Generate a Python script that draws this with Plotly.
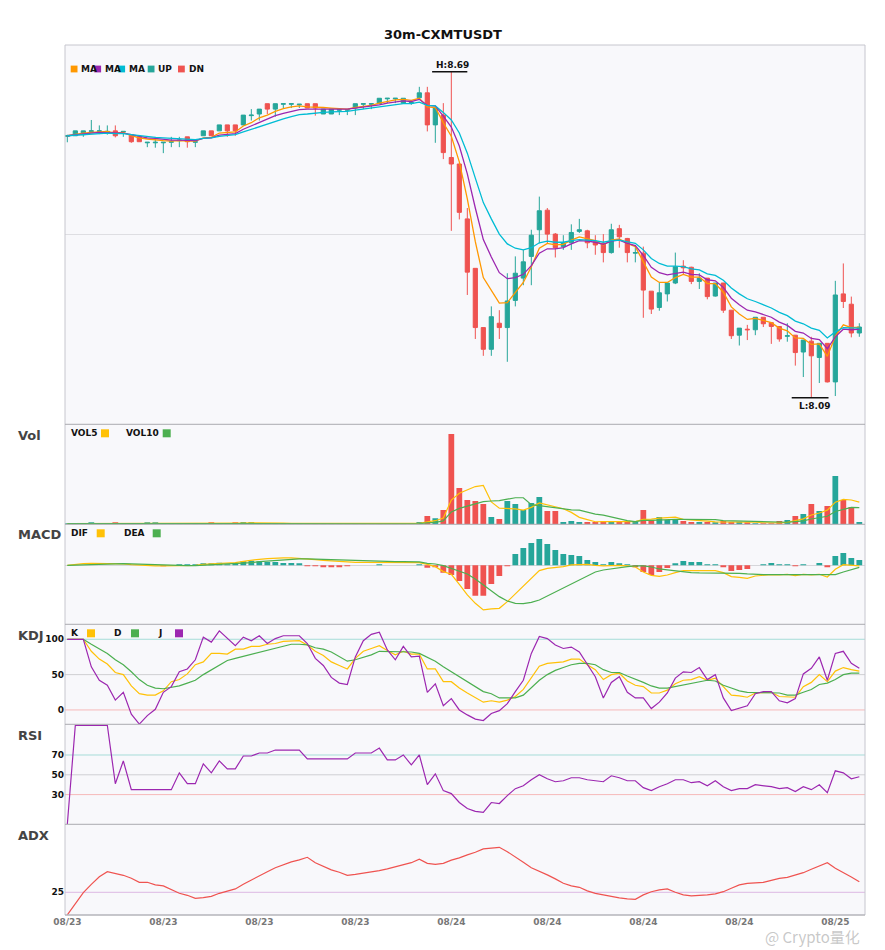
import plotly.graph_objects as go

# ---- values (100 bars) ----
opens = [8.571, 8.572, 8.574, 8.580, 8.580, 8.579, 8.581, 8.579, 8.574, 8.570,
         8.559, 8.559, 8.559, 8.560, 8.563, 8.570, 8.560, 8.572, 8.581, 8.581,
         8.592, 8.592, 8.592, 8.609, 8.612, 8.631, 8.621, 8.630, 8.630, 8.629,
         8.631, 8.631, 8.612, 8.612, 8.619, 8.619, 8.623, 8.630, 8.630, 8.631,
         8.640, 8.640, 8.632, 8.632, 8.642, 8.651, 8.592, 8.610, 8.532, 8.520,
         8.419, 8.328, 8.219, 8.179, 8.227, 8.219, 8.269, 8.310, 8.350, 8.399,
         8.435, 8.391, 8.368, 8.375, 8.396, 8.397, 8.377, 8.374, 8.357, 8.401,
         8.383, 8.356, 8.356, 8.286, 8.256, 8.281, 8.301, 8.332, 8.330, 8.304,
         8.310, 8.277, 8.301, 8.251, 8.205, 8.216, 8.215, 8.238, 8.228, 8.221,
         8.203, 8.205, 8.174, 8.194, 8.164, 8.190, 8.119, 8.281, 8.262, 8.209]
highs = [8.574, 8.581, 8.581, 8.601, 8.591, 8.591, 8.591, 8.580, 8.574, 8.570,
         8.560, 8.570, 8.560, 8.570, 8.570, 8.570, 8.561, 8.581, 8.581, 8.592,
         8.592, 8.592, 8.610, 8.621, 8.621, 8.631, 8.631, 8.631, 8.631, 8.630,
         8.631, 8.631, 8.621, 8.621, 8.620, 8.620, 8.631, 8.631, 8.631, 8.641,
         8.641, 8.641, 8.641, 8.633, 8.662, 8.662, 8.626, 8.632, 8.690, 8.520,
         8.439, 8.328, 8.219, 8.258, 8.251, 8.319, 8.350, 8.362, 8.399, 8.460,
         8.439, 8.393, 8.389, 8.409, 8.419, 8.399, 8.389, 8.391, 8.410, 8.408,
         8.384, 8.371, 8.368, 8.286, 8.301, 8.301, 8.357, 8.343, 8.331, 8.319,
         8.310, 8.301, 8.301, 8.251, 8.218, 8.224, 8.238, 8.238, 8.228, 8.221,
         8.227, 8.205, 8.196, 8.202, 8.190, 8.190, 8.305, 8.337, 8.276, 8.227]
lows = [8.560, 8.572, 8.570, 8.580, 8.575, 8.574, 8.569, 8.570, 8.559, 8.561,
        8.551, 8.550, 8.540, 8.551, 8.551, 8.550, 8.551, 8.572, 8.572, 8.581,
        8.570, 8.572, 8.591, 8.600, 8.600, 8.612, 8.607, 8.623, 8.623, 8.623,
        8.623, 8.609, 8.612, 8.612, 8.610, 8.610, 8.610, 8.621, 8.621, 8.631,
        8.632, 8.632, 8.632, 8.629, 8.642, 8.580, 8.559, 8.529, 8.397, 8.418,
        8.279, 8.198, 8.167, 8.167, 8.198, 8.156, 8.258, 8.297, 8.297, 8.374,
        8.374, 8.348, 8.362, 8.362, 8.393, 8.365, 8.353, 8.339, 8.355, 8.366,
        8.339, 8.339, 8.237, 8.244, 8.250, 8.267, 8.299, 8.316, 8.299, 8.290,
        8.271, 8.276, 8.246, 8.198, 8.186, 8.196, 8.205, 8.220, 8.189, 8.193,
        8.193, 8.149, 8.128, 8.090, 8.117, 8.118, 8.093, 8.255, 8.201, 8.202]
closes = [8.572, 8.581, 8.581, 8.581, 8.581, 8.580, 8.572, 8.580, 8.561, 8.561,
          8.560, 8.560, 8.560, 8.561, 8.564, 8.561, 8.561, 8.581, 8.572, 8.592,
          8.581, 8.581, 8.610, 8.610, 8.621, 8.621, 8.631, 8.631, 8.631, 8.630,
          8.623, 8.623, 8.621, 8.621, 8.620, 8.620, 8.631, 8.631, 8.631, 8.641,
          8.641, 8.641, 8.641, 8.633, 8.651, 8.592, 8.624, 8.541, 8.520, 8.431,
          8.321, 8.219, 8.179, 8.239, 8.219, 8.268, 8.319, 8.340, 8.389, 8.434,
          8.391, 8.366, 8.375, 8.394, 8.399, 8.375, 8.371, 8.357, 8.399, 8.386,
          8.357, 8.357, 8.288, 8.253, 8.283, 8.301, 8.331, 8.329, 8.304, 8.310,
          8.276, 8.301, 8.251, 8.204, 8.218, 8.215, 8.238, 8.226, 8.221, 8.198,
          8.204, 8.173, 8.196, 8.167, 8.190, 8.119, 8.279, 8.267, 8.209, 8.220]

ma_fast = [8.572, 8.575, 8.577, 8.578, 8.579, 8.580, 8.577, 8.578, 8.572, 8.568,
           8.566, 8.564, 8.563, 8.562, 8.563, 8.562, 8.562, 8.568, 8.569, 8.577,
           8.578, 8.579, 8.590, 8.596, 8.605, 8.610, 8.617, 8.622, 8.625, 8.627,
           8.625, 8.625, 8.624, 8.623, 8.622, 8.621, 8.624, 8.626, 8.628, 8.632,
           8.635, 8.638, 8.639, 8.637, 8.641, 8.625, 8.624, 8.596, 8.571, 8.524,
           8.456, 8.377, 8.311, 8.287, 8.264, 8.265, 8.283, 8.302, 8.331, 8.365,
           8.374, 8.371, 8.372, 8.380, 8.386, 8.382, 8.379, 8.371, 8.380, 8.382,
           8.374, 8.368, 8.341, 8.312, 8.302, 8.302, 8.311, 8.317, 8.312, 8.312,
           8.300, 8.300, 8.284, 8.257, 8.244, 8.234, 8.236, 8.232, 8.228, 8.218,
           8.213, 8.200, 8.199, 8.188, 8.189, 8.166, 8.203, 8.224, 8.219, 8.220]
ma_mid = [8.572, 8.574, 8.575, 8.577, 8.578, 8.578, 8.577, 8.577, 8.574, 8.571,
          8.568, 8.567, 8.565, 8.564, 8.564, 8.564, 8.563, 8.567, 8.568, 8.573,
          8.575, 8.576, 8.584, 8.590, 8.597, 8.602, 8.609, 8.613, 8.617, 8.620,
          8.621, 8.621, 8.621, 8.621, 8.621, 8.621, 8.623, 8.625, 8.626, 8.629,
          8.632, 8.634, 8.636, 8.635, 8.639, 8.628, 8.627, 8.608, 8.588, 8.553,
          8.502, 8.439, 8.381, 8.349, 8.320, 8.309, 8.311, 8.317, 8.333, 8.356,
          8.364, 8.364, 8.366, 8.373, 8.379, 8.378, 8.376, 8.372, 8.378, 8.380,
          8.374, 8.370, 8.352, 8.330, 8.320, 8.316, 8.319, 8.321, 8.317, 8.316,
          8.307, 8.305, 8.293, 8.273, 8.261, 8.251, 8.248, 8.243, 8.238, 8.229,
          8.223, 8.212, 8.209, 8.199, 8.197, 8.180, 8.202, 8.216, 8.215, 8.216]
ma_slow = [8.572, 8.573, 8.574, 8.575, 8.576, 8.577, 8.576, 8.576, 8.574, 8.572,
           8.571, 8.569, 8.568, 8.567, 8.567, 8.566, 8.565, 8.567, 8.568, 8.571,
           8.573, 8.574, 8.579, 8.584, 8.589, 8.594, 8.599, 8.603, 8.607, 8.611,
           8.612, 8.614, 8.615, 8.616, 8.616, 8.617, 8.619, 8.621, 8.622, 8.625,
           8.627, 8.629, 8.631, 8.631, 8.634, 8.628, 8.627, 8.615, 8.601, 8.577,
           8.540, 8.494, 8.449, 8.419, 8.391, 8.373, 8.365, 8.362, 8.366, 8.375,
           8.378, 8.376, 8.376, 8.379, 8.381, 8.380, 8.379, 8.376, 8.379, 8.380,
           8.377, 8.374, 8.362, 8.346, 8.337, 8.332, 8.332, 8.331, 8.327, 8.325,
           8.318, 8.315, 8.306, 8.292, 8.281, 8.272, 8.267, 8.261, 8.255, 8.247,
           8.241, 8.231, 8.226, 8.218, 8.214, 8.200, 8.211, 8.219, 8.218, 8.218]

volumes = [2, 2, 2, 5, 2, 1, 4, 1, 2, 2,
           4, 4, 2, 3, 3, 2, 1, 2, 4, 2,
           2, 4, 7, 7, 3, 3, 3, 3, 2, 3,
           2, 2, 2, 2, 1, 1, 2, 1, 1, 1,
           1, 1, 2, 2, 7, 25, 18, 43, 271, 109,
           73, 70, 61, 22, 16, 70, 61, 43, 64, 82,
           40, 40, 7, 10, 7, 7, 7, 10, 10, 7,
           7, 7, 43, 13, 22, 13, 16, 10, 7, 7,
           7, 4, 10, 7, 7, 5, 2, 2, 2, 10,
           13, 25, 31, 61, 40, 55, 145, 73, 52, 7]
vol5 = [2, 2, 2, 2.75, 2.6, 2.4, 2.8, 2.6, 2, 2,
        2.6, 2.6, 2.8, 3, 3.2, 2.8, 2.2, 2.2, 2.4, 2.2,
        2.2, 2.8, 3.8, 4.4, 4.6, 4.8, 4.6, 3.8, 2.8, 2.8,
        2.6, 2.4, 2.2, 2.2, 1.8, 1.6, 1.6, 1.4, 1.2, 1.2,
        1.2, 1, 1.2, 1.4, 2.6, 7.4, 10.8, 19, 72.8, 93.2,
        102.8, 113.2, 116.8, 67, 48.4, 47.8, 46, 42.4, 50.8, 64,
        58, 53.8, 46.6, 35.8, 20.8, 14.2, 7.6, 8.2, 8.2, 8.2,
        8.2, 8.2, 14.8, 15.4, 18.4, 19.6, 21.4, 14.8, 13.6, 10.6,
        9.4, 7, 7, 7, 7, 6.6, 6.2, 4.6, 3.6, 4.2,
        5.8, 10.4, 16.2, 28, 34, 42.4, 66.4, 74.8, 73, 66.4]
vol10 = [2, 2, 2, 2.75, 2.6, 2.33, 2.57, 2.38, 2.33, 2.3,
         2.5, 2.7, 2.7, 2.5, 2.6, 2.7, 2.4, 2.5, 2.7, 2.7,
         2.5, 2.5, 3, 3.4, 3.4, 3.5, 3.7, 3.8, 3.6, 3.7,
         3.7, 3.5, 3, 2.5, 2.3, 2.1, 2, 1.8, 1.7, 1.5,
         1.4, 1.3, 1.3, 1.3, 1.9, 4.3, 5.9, 10.1, 37.1, 47.9,
         55.1, 62, 67.9, 69.9, 70.8, 75.3, 79.6, 79.6, 58.9, 56.2,
         52.9, 49.9, 44.5, 43.3, 42.4, 36.1, 30.7, 27.4, 22, 14.5,
         11.2, 7.9, 11.5, 11.8, 13.3, 13.9, 14.8, 14.8, 14.5, 14.5,
         14.5, 14.2, 10.9, 10.3, 8.8, 8, 6.6, 5.8, 5.3, 5.6,
         6.2, 8.3, 10.4, 15.8, 19.1, 24.1, 38.4, 45.5, 50.5, 50.2]

dif = [0, 0.0009, 0.0015, 0.0018, 0.0018, 0.0018, 0.0015, 0.0012, 0.0006, 0,
       -0.0003, -0.0006, -0.0006, -0.0006, -0.0006, -0.0003, 0, 0.0009, 0.0012, 0.0018,
       0.0018, 0.0024, 0.0036, 0.0048, 0.0054, 0.006, 0.0066, 0.0066, 0.0066, 0.0063,
       0.0057, 0.0051, 0.0045, 0.0039, 0.0033, 0.003, 0.0027, 0.0027, 0.0027, 0.003,
       0.003, 0.003, 0.003, 0.0027, 0.0024, 0.0009, -0.0012, -0.0057, -0.0081, -0.0171,
       -0.0267, -0.0342, -0.0402, -0.0393, -0.0387, -0.0327, -0.0258, -0.0192, -0.0126, -0.0048,
       -0.0027, -0.0021, -0.0012, 0.0003, 0.0009, 0.0009, 0, -0.0006, -0.0003, 0,
       -0.0006, -0.0015, -0.006, -0.009, -0.0099, -0.0087, -0.0066, -0.0048, -0.0048, -0.0048,
       -0.0054, -0.0048, -0.0066, -0.0102, -0.0108, -0.0117, -0.0096, -0.0087, -0.0084, -0.0087,
       -0.0081, -0.0093, -0.0081, -0.0087, -0.0081, -0.0105, -0.0036, 0.0006, 0.0003, -0.0006]
dea = [0, 0.0003, 0.0006, 0.0009, 0.0012, 0.0012, 0.0015, 0.0015, 0.0012, 0.0009,
       0.0006, 0.0003, 0, -0.0003, -0.0003, -0.0003, -0.0003, 0, 0.0003, 0.0006,
       0.0009, 0.0012, 0.0018, 0.0024, 0.0033, 0.0039, 0.0045, 0.0051, 0.0054, 0.0057,
       0.0057, 0.0057, 0.0054, 0.0051, 0.0048, 0.0045, 0.0042, 0.0039, 0.0036, 0.0033,
       0.0033, 0.0033, 0.0033, 0.003, 0.003, 0.0018, 0.0012, -0.0003, -0.0027, -0.0048,
       -0.0078, -0.0123, -0.0177, -0.0231, -0.0282, -0.0321, -0.0342, -0.0345, -0.0333, -0.0312,
       -0.0276, -0.0237, -0.0198, -0.0162, -0.0126, -0.009, -0.006, -0.0042, -0.003, -0.0024,
       -0.0012, -0.0006, -0.0006, -0.0015, -0.0033, -0.0042, -0.0051, -0.006, -0.0066, -0.0069,
       -0.0069, -0.0069, -0.0066, -0.0066, -0.0072, -0.0078, -0.0084, -0.0084, -0.0084, -0.0084,
       -0.0084, -0.0084, -0.0084, -0.0084, -0.0084, -0.0084, -0.0084, -0.006, -0.0039, -0.0018]
macd_hist = [0, 0, 0, 0, 0, 0, 0, 0, 0, 0,
             0, 0, -0.0009, 0, 0.0006, 0.0006, 0.0006, 0.0015, 0.0015, 0.0024,
             0.0009, 0.0015, 0.0036, 0.0042, 0.0036, 0.003, 0.003, 0.0021, 0.0021, 0.0012,
             -0.0006, -0.0006, -0.0012, -0.0012, -0.0012, -0.0006, 0, 0, 0, 0.0006,
             0, 0, 0, 0, 0.0009, -0.0021, -0.0012, -0.0066, -0.0087, -0.0141,
             -0.0213, -0.0273, -0.0273, -0.0168, -0.0096, -0.0006, 0.0102, 0.0156, 0.0201, 0.0237,
             0.0192, 0.0138, 0.0102, 0.0093, 0.0084, 0.0048, 0.003, 0.0006, 0.003, 0.0018,
             0.0003, -0.0012, -0.006, -0.0087, -0.006, -0.0024, 0.0018, 0.0039, 0.003, 0.003,
             0.0003, 0.0009, -0.0015, -0.0051, -0.0042, -0.0033, 0, 0.0009, 0.0021, 0.0009,
             0.0009, -0.0006, 0.0009, 0, 0.0021, -0.0015, 0.0084, 0.0111, 0.0066, 0.0048]

kdj_k = [100, 100, 100, 83, 72, 65, 53, 50, 34, 23,
         21, 21, 27, 40, 43, 51, 64, 68, 80, 80,
         79, 86, 86, 90, 90, 93, 94, 97, 98, 98,
         92, 83, 77, 68, 63, 58, 73, 83, 87, 91,
         84, 78, 83, 79, 79, 58, 58, 40, 40, 31,
         24, 17, 11, 13, 11, 14, 19, 29, 46, 62,
         66, 67, 68, 72, 72, 64, 57, 43, 50, 52,
         41, 35, 33, 24, 24, 28, 37, 42, 43, 47,
         42, 45, 33, 21, 20, 18, 24, 25, 25, 19,
         18, 18, 33, 39, 50, 40, 55, 60, 57, 55]
kdj_d = [100, 100, 100, 93, 87, 80, 71, 64, 54, 43,
         35, 31, 30, 32, 34, 38, 42, 50, 57, 64,
         70, 73, 76, 79, 82, 85, 87, 90, 93, 93,
         92, 88, 86, 82, 76, 69, 71, 74, 78, 83,
         83, 83, 83, 82, 80, 74, 69, 61, 54, 46,
         39, 32, 26, 23, 17, 17, 17, 21, 31, 42,
         50, 56, 60, 64, 66, 66, 64, 57, 53, 53,
         48, 44, 39, 34, 31, 31, 33, 35, 38, 40,
         42, 41, 35, 31, 27, 25, 25, 25, 25, 24,
         21, 21, 25, 29, 36, 38, 43, 50, 52, 52]
kdj_j = [100, 100, 100, 61, 42, 35, 14, 25, -6, -20,
         -8, 1, 25, 33, 54, 58, 71, 103, 96, 112,
         101, 91, 103, 98, 105, 94, 101, 105, 105, 105,
         94, 73, 63, 46, 38, 36, 75, 98, 107, 110,
         85, 71, 90, 75, 76, 25, 37, 6, 16, 0,
         -7, -13, -15, -5, -1, 9, 26, 42, 80, 104,
         101, 92, 87, 89, 82, 64, 47, 17, 39, 47,
         25, 17, 17, 2, 11, 24, 45, 54, 53, 60,
         43, 50, 17, -1, 2, 6, 23, 26, 26, 13,
         10, 16, 51, 59, 75, 42, 80, 83, 66, 59]

rsi = [0, 100, 100, 100, 100, 100, 41, 64, 35, 35,
       35, 35, 35, 35, 52, 41, 41, 61, 52, 64,
       56, 56, 69, 69, 72, 72, 75, 75, 75, 75,
       66, 66, 66, 66, 66, 66, 72, 72, 72, 77,
       65, 65, 70, 60, 70, 40, 51, 34, 31, 22,
       16, 13, 12, 22, 21, 29, 36, 39, 45, 50,
       46, 43, 44, 47, 47, 45, 44, 43, 49, 47,
       44, 44, 37, 34, 38, 41, 45, 45, 42, 43,
       39, 44, 38, 34, 36, 36, 40, 39, 38, 36,
       37, 33, 38, 35, 40, 32, 54, 52, 46, 48]

adx = [13.7, 19.5, 24.8, 29, 32.8, 35.3, 34.5, 33.5, 32, 30,
       30, 28.7, 28.2, 26.2, 24.5, 23.5, 22, 22.3, 23, 24.5,
       25.7, 26.7, 29, 31.2, 33.2, 35.3, 37.3, 38.7, 40.2, 41.2,
       42.5, 39.8, 37.8, 36.2, 35, 33.5, 34, 34.5, 35, 35.8,
       36.7, 37.7, 38.7, 39.8, 41.6, 39.5, 39, 39.5, 41.1, 42.2,
       43.7, 45, 46.7, 47, 47.5, 45.3, 42.8, 40, 37.3, 35.7,
       33.7, 31.7, 29.5, 28.2, 27.5, 25.7, 24.5, 23.7, 22.8, 22.2,
       21.7, 21.5, 23.7, 25.3, 26.2, 26.7, 25, 23.7, 23.2, 23.3,
       23.7, 24.2, 25.3, 27, 28.7, 29.5, 29.8, 30, 31, 32,
       32.5, 33.7, 34.8, 36.5, 38.2, 39.8, 37, 35, 32.7, 30.3]

tick_labels = ["08/23", "08/23", "08/23", "08/23", "08/24",
               "08/24", "08/24", "08/24", "08/25"]

# ---- styling ----
UP, DN = "#26a69a", "#ef5350"
ORANGE, PURPLE, CYAN = "#ff9800", "#9c27b0", "#00bcd4"
YELLOW, GREEN = "#ffc107", "#4caf50"
FONT = "DejaVu Sans"

x = list(range(len(closes)))
tick_pos = x[::12]

# the page body adds an 8px offset; plot area on screen is 65..865 x 45..915
OFF = 8


def px_x(px):
    return (px - 65) / 800


def px_y(py):
    return (915 - py) / 870


bounds = [45, 424.3, 524.3, 624.3, 724.3, 824.3, 915]
doms = [[px_y(bounds[i + 1]), px_y(bounds[i])] for i in range(6)]

fig = go.Figure()

# main panel
fig.add_trace(go.Candlestick(
    x=x, open=opens, high=highs, low=lows, close=closes,
    increasing=dict(line=dict(color=UP, width=1), fillcolor=UP),
    decreasing=dict(line=dict(color=DN, width=1), fillcolor=DN),
    whiskerwidth=0, yaxis="y"))
for vals, col in [(ma_fast, ORANGE), (ma_mid, PURPLE), (ma_slow, CYAN)]:
    fig.add_trace(go.Scatter(x=x, y=vals, mode="lines",
                             line=dict(color=col, width=1.3), yaxis="y"))

# volume
vol_colors = [UP if c > o else DN for o, c in zip(opens, closes)]
fig.add_trace(go.Bar(x=x, y=volumes, marker=dict(color=vol_colors, line_width=0),
                     width=0.72, yaxis="y2"))
fig.add_trace(go.Scatter(x=x, y=vol5, mode="lines", line=dict(color=YELLOW, width=1.2), yaxis="y2"))
fig.add_trace(go.Scatter(x=x, y=vol10, mode="lines", line=dict(color=GREEN, width=1.2), yaxis="y2"))

# MACD
hist_colors = [UP if v >= 0 else DN for v in macd_hist]
fig.add_trace(go.Bar(x=x, y=macd_hist, marker=dict(color=hist_colors, line_width=0),
                     width=0.72, yaxis="y3"))
fig.add_trace(go.Scatter(x=x, y=dif, mode="lines", line=dict(color=YELLOW, width=1.2), yaxis="y3"))
fig.add_trace(go.Scatter(x=x, y=dea, mode="lines", line=dict(color=GREEN, width=1.2), yaxis="y3"))

# KDJ
fig.add_trace(go.Scatter(x=x, y=kdj_k, mode="lines", line=dict(color=YELLOW, width=1.2), yaxis="y4"))
fig.add_trace(go.Scatter(x=x, y=kdj_d, mode="lines", line=dict(color=GREEN, width=1.2), yaxis="y4"))
fig.add_trace(go.Scatter(x=x, y=kdj_j, mode="lines", line=dict(color=PURPLE, width=1.2), yaxis="y4"))

# RSI
fig.add_trace(go.Scatter(x=x, y=rsi, mode="lines", line=dict(color=PURPLE, width=1.2), yaxis="y5"))

# ADX
fig.add_trace(go.Scatter(x=x, y=adx, mode="lines", line=dict(color=DN, width=1.2), yaxis="y6"))

tickfont = dict(family=FONT, size=9, color="#111", weight="bold")
hidden = dict(showticklabels=False, showgrid=False, zeroline=False, ticks="")

fig.update_layout(
    width=885, height=950,
    margin=dict(l=65 - OFF, r=885 + OFF - 865, t=45 - OFF, b=950 + OFF - 915),
    paper_bgcolor="white", plot_bgcolor="#f8f8fb",
    showlegend=False, hovermode=False, boxgap=0.25,
    font=dict(family=FONT),
    title=dict(text="30m-CXMTUSDT", x=(443 - OFF) / 885, xref="container", xanchor="center",
               y=1 - (34 - OFF) / 950, yref="container", yanchor="middle",
               font=dict(family=FONT, size=13, color="#111", weight="bold")),
    xaxis=dict(domain=[0, 1], anchor="y6", range=[-0.29, 99.71],
               rangeslider=dict(visible=False), showgrid=False, zeroline=False,
               tickvals=tick_pos, ticktext=tick_labels, ticks="",
               tickfont=dict(family=FONT, size=9, color="#777", weight="bold")),
    yaxis=dict(domain=doms[0], range=[8.041, 8.739], showticklabels=False,
               tickvals=[8.39], gridcolor="#dedee2", zeroline=False, ticks=""),
    yaxis2=dict(domain=doms[1], range=[0, 300], **hidden),
    yaxis3=dict(domain=doms[2], range=[-0.0531, 0.0369], showticklabels=False,
                tickvals=[0], gridcolor="#d6d6da", zeroline=False, ticks=""),
    yaxis4=dict(domain=doms[3], range=[-20.3, 121.2], tickvals=[0, 50, 100],
                showgrid=False, zeroline=False, ticks="", tickfont=tickfont),
    yaxis5=dict(domain=doms[4], range=[0, 101], tickvals=[30, 50, 70],
                showgrid=False, zeroline=False, ticks="", tickfont=tickfont),
    yaxis6=dict(domain=doms[5], range=[13.65, 59], tickvals=[25],
                showgrid=False, zeroline=False, ticks="", tickfont=tickfont),
)

shapes = []
# indicator guide levels
for ax, level, col in [("y4", 100, "#a6dcd8"), ("y4", 50, "#cfcfd3"), ("y4", 0, "#f6b9b9"),
                       ("y5", 70, "#a6dcd8"), ("y5", 50, "#cfcfd3"), ("y5", 30, "#f6b9b9"),
                       ("y6", 25, "#dcb8e4")]:
    shapes.append(dict(type="line", xref="paper", yref=ax, x0=0, x1=1, y0=level, y1=level,
                       line=dict(color=col, width=1), layer="below"))
# frame and panel separators
shapes.append(dict(type="rect", xref="paper", yref="paper", x0=0, x1=1, y0=0, y1=1,
                   line=dict(color="#c6c6ce", width=1)))
for b in bounds[1:]:
    shapes.append(dict(type="line", xref="paper", yref="paper", x0=0, x1=1,
                       y0=px_y(b), y1=px_y(b), line=dict(color="#ababb0", width=1)))

annotations = []


def label(text, px, py, color="#111", size=9):
    annotations.append(dict(text=text, xref="paper", yref="paper", x=px_x(px), y=px_y(py),
                            xanchor="left", yanchor="middle", showarrow=False,
                            font=dict(family=FONT, size=size, color=color, weight="bold")))


def square(color, px, py, s):
    shapes.append(dict(type="rect", xref="paper", yref="paper",
                       x0=px_x(px), x1=px_x(px + s), y0=px_y(py + s / 2), y1=px_y(py - s / 2),
                       fillcolor=color, line=dict(width=0)))


# main legend (square then text)
main_items = [("MA", ORANGE, 70.7), ("MA", PURPLE, 94.3), ("MA", CYAN, 118.3),
              ("UP", UP, 147.7), ("DN", DN, 178)]
for txt, col, sx in main_items:
    label(txt, sx + 8.5, 69)
for txt, col, sx in main_items:
    square(col, sx, 69, 6.8)

# panel legends (text then square)
for items, py in [([("VOL5", 68.5, YELLOW, 101), ("VOL10", 123.5, GREEN, 162.7)], 433.3),
                  ([("DIF", 68.5, YELLOW, 96.7), ("DEA", 121.5, GREEN, 152.7)], 533.3),
                  ([("K", 68.5, YELLOW, 87), ("D", 111.5, GREEN, 131), ("J", 155.5, PURPLE, 175)], 633.3)]:
    for txt, tx, col, sx in items:
        label(txt, tx, py)
        square(col, sx, py, 8)

# panel titles
for txt, py in [("Vol", 435), ("MACD", 534), ("KDJ", 635), ("RSI", 735), ("ADX", 835)]:
    label(txt, 15.5, py, color="#444", size=13)

# high / low markers
hi_idx = highs.index(max(highs))
lo_idx = lows.index(min(lows))
shapes.append(dict(type="line", xref="x", yref="y", x0=hi_idx - 2.4, x1=hi_idx + 2.0,
                   y0=highs[hi_idx], y1=highs[hi_idx], line=dict(color="#111", width=1.5)))
shapes.append(dict(type="line", xref="x", yref="y", x0=lo_idx - 2.45, x1=lo_idx + 2.15,
                   y0=lows[lo_idx], y1=lows[lo_idx], line=dict(color="#111", width=1.5)))
annotations.append(dict(text=f"H:{highs[hi_idx]:.2f}", x=hi_idx + 0.1, y=highs[hi_idx],
                        xref="x", yref="y", xanchor="center", yanchor="bottom", yshift=0,
                        showarrow=False, font=dict(family=FONT, size=9, color="#111", weight="bold")))
annotations.append(dict(text=f"L:{lows[lo_idx]:.2f}", x=lo_idx + 0.5, y=lows[lo_idx],
                        xref="x", yref="y", xanchor="center", yanchor="top", yshift=-1,
                        showarrow=False, font=dict(family=FONT, size=9, color="#111", weight="bold")))

# watermark, kept just under the date labels
annotations.append(dict(text="@ Crypto量化", xref="paper", yref="paper", x=px_x(812), y=px_y(936),
                        xanchor="center", yanchor="middle", showarrow=False,
                        font=dict(family="Noto Sans CJK SC", size=15, color="rgba(170,170,170,0.65)")))

fig.update_layout(shapes=shapes, annotations=annotations)

fig.write_html("out.html")
